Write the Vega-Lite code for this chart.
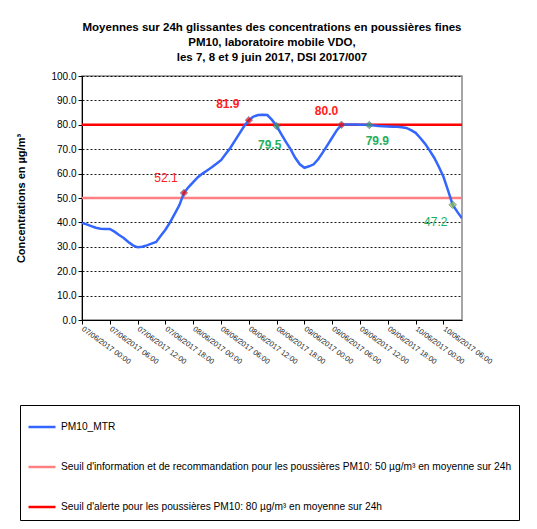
{
  "$schema": "https://vega.github.io/schema/vega-lite/v6.json",
  "autosize": "none",
  "width": 380,
  "height": 244,
  "padding": {"left": 82, "top": 76, "right": 75, "bottom": 209},
  "background": "white",
  "config": {
    "font": "Liberation Sans",
    "view": {"stroke": "#888888", "strokeWidth": 1.5},
    "axis": {"labelFont": "Liberation Sans", "titleFont": "Liberation Sans", "domainColor": "black", "tickColor": "black", "labelColor": "black"}
  },
  "title": {
    "text": ["Moyennes sur 24h glissantes des concentrations en poussières fines", "PM10, laboratoire mobile VDO,", "les 7, 8 et 9 juin 2017, DSI 2017/007"],
    "fontSize": 11.5,
    "fontWeight": "bold",
    "anchor": "middle",
    "frame": "group",
    "offset": 8,
    "lineHeight": 15,
    "color": "black"
  },
  "datasets": {
    "pm": [
      {"t": "2017-06-07T00:00:00Z", "v": 39.8}, {"t": "2017-06-07T01:00:00Z", "v": 39.2}, {"t": "2017-06-07T02:00:00Z", "v": 38.5}, {"t": "2017-06-07T03:00:00Z", "v": 37.8},
      {"t": "2017-06-07T04:00:00Z", "v": 37.4}, {"t": "2017-06-07T05:00:00Z", "v": 37.3}, {"t": "2017-06-07T06:00:00Z", "v": 37.3}, {"t": "2017-06-07T07:00:00Z", "v": 36.2},
      {"t": "2017-06-07T08:00:00Z", "v": 34.8}, {"t": "2017-06-07T09:00:00Z", "v": 33.6}, {"t": "2017-06-07T10:00:00Z", "v": 32.0}, {"t": "2017-06-07T11:00:00Z", "v": 30.6},
      {"t": "2017-06-07T12:00:00Z", "v": 29.8}, {"t": "2017-06-07T13:00:00Z", "v": 30.0}, {"t": "2017-06-07T14:00:00Z", "v": 30.6}, {"t": "2017-06-07T15:00:00Z", "v": 31.3},
      {"t": "2017-06-07T16:00:00Z", "v": 32.0}, {"t": "2017-06-07T17:00:00Z", "v": 34.5}, {"t": "2017-06-07T18:00:00Z", "v": 37.0}, {"t": "2017-06-07T19:00:00Z", "v": 40.0},
      {"t": "2017-06-07T20:00:00Z", "v": 43.5}, {"t": "2017-06-07T21:00:00Z", "v": 47.0}, {"t": "2017-06-07T22:00:00Z", "v": 52.1}, {"t": "2017-06-07T23:00:00Z", "v": 54.5},
      {"t": "2017-06-08T00:00:00Z", "v": 56.5}, {"t": "2017-06-08T01:00:00Z", "v": 58.5}, {"t": "2017-06-08T02:00:00Z", "v": 60.0}, {"t": "2017-06-08T03:00:00Z", "v": 61.3},
      {"t": "2017-06-08T04:00:00Z", "v": 62.6}, {"t": "2017-06-08T05:00:00Z", "v": 64.0}, {"t": "2017-06-08T06:00:00Z", "v": 65.5}, {"t": "2017-06-08T07:00:00Z", "v": 68.0},
      {"t": "2017-06-08T08:00:00Z", "v": 70.5}, {"t": "2017-06-08T09:00:00Z", "v": 73.5}, {"t": "2017-06-08T10:00:00Z", "v": 76.5}, {"t": "2017-06-08T11:00:00Z", "v": 79.5},
      {"t": "2017-06-08T12:00:00Z", "v": 81.9}, {"t": "2017-06-08T13:00:00Z", "v": 83.4}, {"t": "2017-06-08T14:00:00Z", "v": 84.0}, {"t": "2017-06-08T15:00:00Z", "v": 84.1},
      {"t": "2017-06-08T16:00:00Z", "v": 84.0}, {"t": "2017-06-08T17:00:00Z", "v": 82.0}, {"t": "2017-06-08T18:00:00Z", "v": 79.5}, {"t": "2017-06-08T19:00:00Z", "v": 76.2},
      {"t": "2017-06-08T20:00:00Z", "v": 73.0}, {"t": "2017-06-08T21:00:00Z", "v": 70.0}, {"t": "2017-06-08T22:00:00Z", "v": 66.5}, {"t": "2017-06-08T23:00:00Z", "v": 63.8},
      {"t": "2017-06-09T00:00:00Z", "v": 62.4}, {"t": "2017-06-09T01:00:00Z", "v": 63.0}, {"t": "2017-06-09T02:00:00Z", "v": 63.8}, {"t": "2017-06-09T03:00:00Z", "v": 66.0},
      {"t": "2017-06-09T04:00:00Z", "v": 68.8}, {"t": "2017-06-09T05:00:00Z", "v": 71.8}, {"t": "2017-06-09T06:00:00Z", "v": 74.8}, {"t": "2017-06-09T07:00:00Z", "v": 77.8},
      {"t": "2017-06-09T08:00:00Z", "v": 80.0}, {"t": "2017-06-09T09:00:00Z", "v": 80.1}, {"t": "2017-06-09T10:00:00Z", "v": 80.1}, {"t": "2017-06-09T11:00:00Z", "v": 80.1},
      {"t": "2017-06-09T12:00:00Z", "v": 80.0}, {"t": "2017-06-09T13:00:00Z", "v": 80.0}, {"t": "2017-06-09T14:00:00Z", "v": 79.9}, {"t": "2017-06-09T15:00:00Z", "v": 79.7},
      {"t": "2017-06-09T16:00:00Z", "v": 79.5}, {"t": "2017-06-09T17:00:00Z", "v": 79.4}, {"t": "2017-06-09T18:00:00Z", "v": 79.3}, {"t": "2017-06-09T19:00:00Z", "v": 79.2},
      {"t": "2017-06-09T20:00:00Z", "v": 79.2}, {"t": "2017-06-09T21:00:00Z", "v": 79.0}, {"t": "2017-06-09T22:00:00Z", "v": 78.7}, {"t": "2017-06-09T23:00:00Z", "v": 77.8},
      {"t": "2017-06-10T00:00:00Z", "v": 76.7}, {"t": "2017-06-10T01:00:00Z", "v": 74.6}, {"t": "2017-06-10T02:00:00Z", "v": 72.3}, {"t": "2017-06-10T03:00:00Z", "v": 69.5},
      {"t": "2017-06-10T04:00:00Z", "v": 66.5}, {"t": "2017-06-10T05:00:00Z", "v": 62.8}, {"t": "2017-06-10T06:00:00Z", "v": 58.7}, {"t": "2017-06-10T07:00:00Z", "v": 53.0},
      {"t": "2017-06-10T08:00:00Z", "v": 47.2}, {"t": "2017-06-10T09:00:00Z", "v": 44.3}, {"t": "2017-06-10T10:00:00Z", "v": 41.7}
    ],
    "pts": [
      {"t": "2017-06-07T22:00:00Z", "v": 52.1, "grp": "a", "lab": "52.1"},
      {"t": "2017-06-08T12:00:00Z", "v": 81.9, "grp": "a", "lab": "81.9"},
      {"t": "2017-06-08T18:00:00Z", "v": 79.5, "grp": "b", "lab": "79.5"},
      {"t": "2017-06-09T08:00:00Z", "v": 80.0, "grp": "a", "lab": "80.0"},
      {"t": "2017-06-09T14:00:00Z", "v": 79.9, "grp": "b", "lab": "79.9"},
      {"t": "2017-06-10T08:00:00Z", "v": 47.2, "grp": "c", "lab": "47.2"}
    ],
    "seuils": [
      {"t": "2017-06-07T00:00:00Z", "t2": "2017-06-10T10:00:00Z", "v": 50, "s": "Seuil d'information et de recommandation pour les poussières PM10: 50 µg/m³ en moyenne sur 24h"},
      {"t": "2017-06-07T00:00:00Z", "t2": "2017-06-10T10:00:00Z", "v": 80, "s": "Seuil d'alerte pour les poussières PM10: 80 µg/m³ en moyenne sur 24h"}
    ]
  },
  "encoding": {
    "x": {
      "field": "t", "type": "temporal",
      "scale": {"type": "utc", "domain": [{"year": 2017, "month": 6, "date": 7, "hours": 0, "utc": true}, {"year": 2017, "month": 6, "date": 10, "hours": 10, "utc": true}]},
      "axis": {
        "title": null,
        "values": [
          {"year": 2017, "month": 6, "date": 7, "hours": 0, "utc": true}, {"year": 2017, "month": 6, "date": 7, "hours": 6, "utc": true},
          {"year": 2017, "month": 6, "date": 7, "hours": 12, "utc": true}, {"year": 2017, "month": 6, "date": 7, "hours": 18, "utc": true},
          {"year": 2017, "month": 6, "date": 8, "hours": 0, "utc": true}, {"year": 2017, "month": 6, "date": 8, "hours": 6, "utc": true},
          {"year": 2017, "month": 6, "date": 8, "hours": 12, "utc": true}, {"year": 2017, "month": 6, "date": 8, "hours": 18, "utc": true},
          {"year": 2017, "month": 6, "date": 9, "hours": 0, "utc": true}, {"year": 2017, "month": 6, "date": 9, "hours": 6, "utc": true},
          {"year": 2017, "month": 6, "date": 9, "hours": 12, "utc": true}, {"year": 2017, "month": 6, "date": 9, "hours": 18, "utc": true},
          {"year": 2017, "month": 6, "date": 10, "hours": 0, "utc": true}, {"year": 2017, "month": 6, "date": 10, "hours": 6, "utc": true}
        ],
        "labelExpr": "utcFormat(datum.value, '%d/%m/%Y %H:%M')",
        "labelAngle": 36, "labelAlign": "left", "labelBaseline": "middle",
        "labelFontSize": 7.5, "labelColor": "#222222", "labelOverlap": false, "labelFlush": false,
        "tickSize": 4, "grid": false, "labelPadding": 4
      }
    },
    "y": {
      "field": "v", "type": "quantitative",
      "scale": {"domain": [0, 100], "nice": false},
      "axis": {
        "title": "Concentrations en µg/m³", "titleFontSize": 11, "titleFontWeight": "bold", "titleColor": "black", "titlePadding": 24,
        "values": [0, 10, 20, 30, 40, 50, 60, 70, 80, 90, 100], "format": ".1f", "labelFontSize": 10,
        "tickSize": 4, "grid": true, "gridColor": "black", "gridDash": [2, 2], "gridOpacity": 0.9, "gridWidth": 1
      }
    }
  },
  "layer": [
    {
      "data": {"name": "seuils"},
      "mark": {"type": "rule", "strokeWidth": 2.5},
      "encoding": {
        "x2": {"field": "t2"},
        "color": {"field": "s", "type": "nominal", "title": null}
      }
    },
    {
      "data": {"name": "pm"},
      "mark": {"type": "line", "strokeWidth": 2.5, "clip": true},
      "encoding": {
        "color": {
          "datum": "PM10_MTR", "type": "nominal",
          "scale": {
            "domain": ["PM10_MTR", "Seuil d'information et de recommandation pour les poussières PM10: 50 µg/m³ en moyenne sur 24h", "Seuil d'alerte pour les poussières PM10: 80 µg/m³ en moyenne sur 24h"],
            "range": ["#3366ff", "#ff8080", "#ff0000"]
          },
          "legend": {
            "title": null, "orient": "none", "legendX": -62, "legendY": 329, "direction": "vertical",
            "symbolType": "stroke", "symbolSize": 729, "symbolStrokeWidth": 2.5,
            "labelFontSize": 10.2, "labelColor": "black", "labelLimit": 700, "labelOffset": 4,
            "rowPadding": 19, "padding": 7, "strokeColor": "black", "fillColor": "white"
          }
        }
      }
    },
    {
      "data": {"name": "pts"},
      "mark": {"type": "point", "filled": true, "shape": "diamond", "size": 55, "stroke": "#55709a", "strokeWidth": 1},
      "encoding": {
        "fill": {"field": "grp", "type": "nominal", "scale": {"domain": ["a", "b", "c"], "range": ["#ff0000", "#3a9a5a", "#8cc63f"]}, "legend": null}
      }
    },
    {
      "data": {"name": "pts"},
      "transform": [{"filter": "datum.lab == '52.1'"}],
      "mark": {"type": "text", "dx": -18, "dy": -15, "fontSize": 12, "color": "#ff2020"},
      "encoding": {"text": {"field": "lab"}}
    },
    {
      "data": {"name": "pts"},
      "transform": [{"filter": "datum.lab == '81.9'"}],
      "mark": {"type": "text", "dx": -21, "dy": -16, "fontSize": 12, "fontWeight": "bold", "color": "#ff2020"},
      "encoding": {"text": {"field": "lab"}}
    },
    {
      "data": {"name": "pts"},
      "transform": [{"filter": "datum.lab == '80.0'"}],
      "mark": {"type": "text", "dx": -15, "dy": -14, "fontSize": 12, "fontWeight": "bold", "color": "#ff2020"},
      "encoding": {"text": {"field": "lab"}}
    },
    {
      "data": {"name": "pts"},
      "transform": [{"filter": "datum.lab == '79.5'"}],
      "mark": {"type": "text", "dx": -7, "dy": 19, "fontSize": 12, "fontWeight": "bold", "color": "#22b060"},
      "encoding": {"text": {"field": "lab"}}
    },
    {
      "data": {"name": "pts"},
      "transform": [{"filter": "datum.lab == '79.9'"}],
      "mark": {"type": "text", "dx": 8, "dy": 16, "fontSize": 12, "fontWeight": "bold", "color": "#22b060"},
      "encoding": {"text": {"field": "lab"}}
    },
    {
      "data": {"name": "pts"},
      "transform": [{"filter": "datum.lab == '47.2'"}],
      "mark": {"type": "text", "dx": -17, "dy": 17, "fontSize": 12, "color": "#22b060"},
      "encoding": {"text": {"field": "lab"}}
    }
  ]
}
